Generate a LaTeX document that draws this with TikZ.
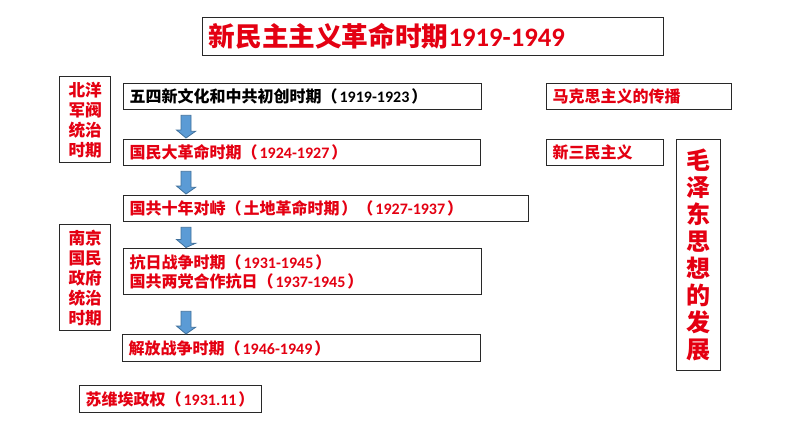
\documentclass[tikz,border=0pt]{standalone}
\usepackage{fontspec}
\setmainfont{Carlito}
\newfontfamily\cjk{Noto Sans CJK SC}
\usetikzlibrary{calc}
\newcommand\zh[1]{{\cjk #1}}
\newcommand\lpar{\zh{（}\kern0.12em\relax}
\newcommand\rpar{\kern0.12em\zh{）}}
\definecolor{redtxt}{RGB}{228,0,18}
\definecolor{arrfill}{RGB}{91,155,213}
\definecolor{arrline}{RGB}{65,113,156}
\definecolor{boxline}{RGB}{40,40,40}
\tikzset{
  box/.style={draw=boxline, line width=1pt, fill=white, anchor=north west, inner ysep=0pt, inner xsep=6*0.75pt, align=left, font=\bfseries\fontsize{12}{15}\selectfont, text=redtxt},
  sidebox/.style={draw=boxline, line width=1pt, fill=white, anchor=north west, inner sep=0pt, align=center, font=\bfseries\fontsize{12.5}{15}\selectfont, text=redtxt},
  arr/.style={fill=arrfill, draw=arrline, line width=0.6pt, line join=miter}
}
\newcommand\blockarr[2]{%
  \draw[arr] ($(#1)+(-5,0)$) -- ++(10,0) -- ++(0,16) -- ++(4.5,0) -- (#2) -- ++(-9.5,-8) -- ++(4.5,0) -- cycle;}
\begin{document}
\begin{tikzpicture}[x=0.75pt,y=-0.75pt]
\useasboundingbox (0,0) rectangle (794,447);
% title
\node[box, minimum width=461*0.75pt, minimum height=38*0.75pt, text width=449*0.75pt, font=\bfseries\fontsize{20}{24}\selectfont] (title) at (202,17) {\zh{新民主主义革命时期}1919-1949};
% side boxes
\node[sidebox, minimum width=51*0.75pt, minimum height=86*0.75pt] (bl1) at (59,76) {\zh{北洋}\\\zh{军阀}\\\zh{统治}\\\zh{时期}};
\node[sidebox, minimum width=51*0.75pt, minimum height=106*0.75pt] (bl2) at (59,224) {\zh{南京}\\\zh{国民}\\\zh{政府}\\\zh{统治}\\\zh{时期}};
% main column
\node[box, text=black, minimum width=358*0.75pt, minimum height=26*0.75pt, text width=346*0.75pt] (b1) at (123,83) {\zh{五四新文化和中共初创时期}\lpar 1919-1923\rpar};
\node[box, minimum width=357*0.75pt, minimum height=26*0.75pt, text width=345*0.75pt] (b2) at (123,139) {\zh{国民大革命时期}\lpar 1924-1927\rpar};
\node[box, minimum width=405*0.75pt, minimum height=26*0.75pt, text width=393*0.75pt] (b3) at (123,195) {\zh{国共十年对峙}\lpar\zh{土地革命时期}\rpar\lpar 1927-1937\rpar};
\node[box, minimum width=358*0.75pt, minimum height=46*0.75pt, text width=346*0.75pt, font=\bfseries\fontsize{12}{14.5}\selectfont] (b4) at (123,248) {\zh{抗日战争时期}\lpar 1931-1945\rpar\\\zh{国共两党合作抗日}\lpar 1937-1945\rpar};
\node[box, minimum width=358*0.75pt, minimum height=27*0.75pt, text width=346*0.75pt] (b5) at (122,334) {\zh{解放战争时期}\lpar 1946-1949\rpar};
\node[box, minimum width=182*0.75pt, minimum height=27*0.75pt, text width=170*0.75pt, inner xsep=5*0.75pt] (sv) at (79,385) {\mbox{\zh{苏维埃政权}\lpar 1931.11\rpar}};
% right column
\node[box, minimum width=185*0.75pt, minimum height=26*0.75pt, text width=173*0.75pt] (mk) at (546,83) {\zh{马克思主义的传播}};
\node[box, minimum width=117*0.75pt, minimum height=26*0.75pt, text width=105*0.75pt] (xs) at (546,139) {\zh{新三民主义}};
\node[sidebox, minimum width=44*0.75pt, minimum height=231*0.75pt, font=\bfseries\fontsize{18}{20.25}\selectfont] (mz) at (676,139) {\zh{毛}\\\zh{泽}\\\zh{东}\\\zh{思}\\\zh{想}\\\zh{的}\\\zh{发}\\\zh{展}};
% arrows
\coordinate (a1s) at ($(b1.south west)+(63,5)$);
\coordinate (a1e) at ($(b2.north west)+(63,-1)$);
\coordinate (a2s) at ($(b2.south west)+(63,5)$);
\coordinate (a2e) at ($(b3.north west)+(63,-1)$);
\coordinate (a3s) at ($(b3.south west)+(63,5)$);
\coordinate (a3e) at ($(b4.north west)+(63,-0.5)$);
\coordinate (a4s) at ($(b4.south west)+(63,16)$);
\coordinate (a4e) at ($(b5.north west)+(64,0)$);
\blockarr{a1s}{a1e}
\blockarr{a2s}{a2e}
\blockarr{a3s}{a3e}
\blockarr{a4s}{a4e}
\end{tikzpicture}
\end{document}
